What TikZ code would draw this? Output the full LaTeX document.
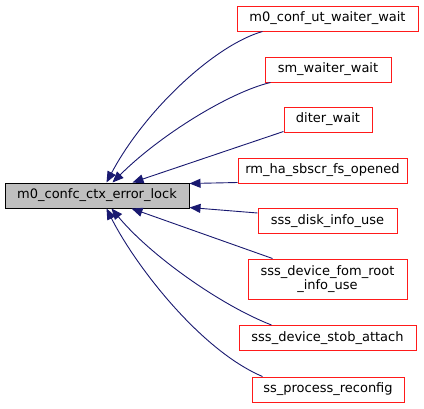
\documentclass[tikz,border=0pt]{standalone}
\usepackage{fontspec}
\setmainfont{DejaVu Sans}
\usetikzlibrary{arrows.meta,calc}
\definecolor{edgeblue}{HTML}{191970}
\definecolor{mainfill}{HTML}{BFBFBF}
\definecolor{boxred}{HTML}{FF1A1A}
\tikzset{
  box/.style={draw=boxred, fill=white, line width=1pt, inner sep=0pt, minimum height=25pt, align=center, font=\fontsize{13}{14.5}\selectfont},
  mainbox/.style={draw=black, fill=mainfill, line width=1pt, inner sep=0pt, minimum height=25pt, font=\fontsize{13}{14.5}\selectfont},
  edge/.style={draw=edgeblue, line width=0.9pt, -{Triangle[length=11pt,width=9pt]}, fill=none}
}
\begin{document}
\begin{tikzpicture}[x=1pt,y=-1pt]
\useasboundingbox (0,0) rectangle (424,408);
\node[mainbox, minimum width=184pt] (main) at (97,195.5) {m0\_confc\_ctx\_error\_lock};
\node[box, minimum width=181pt] (n1) at (327.5,18.5) {m0\_conf\_ut\_waiter\_wait};
\node[box, minimum width=126pt] (n2) at (328,69.5) {sm\_waiter\_wait};
\node[box, minimum width=88pt] (n3) at (328,119.5) {diter\_wait};
\node[box, minimum width=169pt] (n4) at (322.5,170.5) {rm\_ha\_sbscr\_fs\_opened};
\node[box, minimum width=139pt] (n5) at (327.5,221) {sss\_disk\_info\_use};
\node[box, minimum width=159pt, minimum height=40pt] (n6) at (327.5,279) {sss\_device\_fom\_root\\\_info\_use};
\node[box, minimum width=177pt] (n7) at (327.5,338) {sss\_device\_stob\_attach};
\node[box, minimum width=152pt] (n8) at (328,389.5) {ss\_process\_reconfig};

\draw[edge] ($(n1.south west)+(26,0)$) .. controls (215,45) and (145,110) .. ($(main.north west)+(102,0)$);
\draw[edge] ($(n2.south west)+(6,0)$) .. controls (230,92) and (160,135) .. ($(main.north west)+(108,0)$);
\draw[edge] ($(n3.south west)+(0,-1)$) -- ($(main.north west)+(128,0)$);
\draw[edge] ($(n4.south west)+(0,-1)$) -- ($(main.north east)+(0,1)$);
\draw[edge] ($(n5.west)+(0,-8)$) -- ($(main.south east)+(0,-1)$);
\draw[edge] ($(n6.north west)+(25,0)$) -- ($(main.south west)+(127,0)$);
\draw[edge] ($(n7.north west)+(33,0)$) .. controls (220,305) and (150,255) .. ($(main.south west)+(107,0)$);
\draw[edge] ($(n8.north west)+(11,0)$) .. controls (200,350) and (135,265) .. ($(main.south west)+(102,0)$);
\end{tikzpicture}
\end{document}
